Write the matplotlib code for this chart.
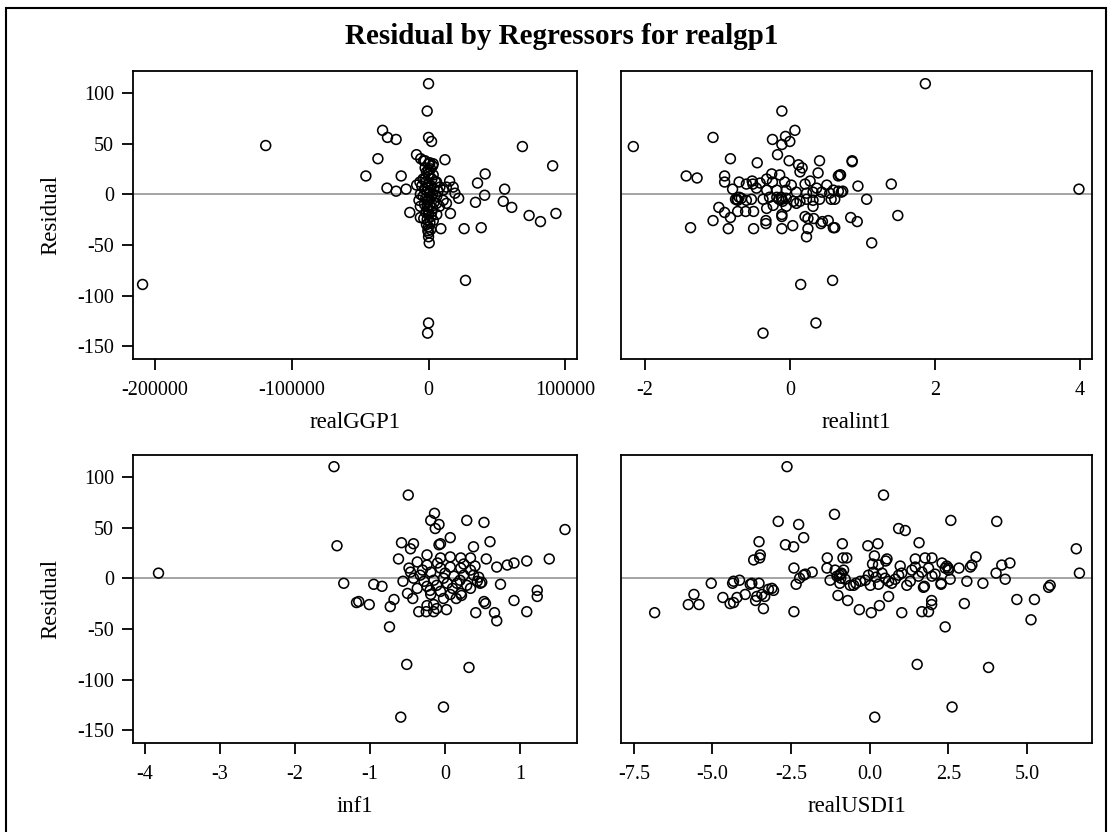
import matplotlib
matplotlib.use('Agg')
import matplotlib.pyplot as plt
from matplotlib.patches import Rectangle

plt.rcParams['font.family'] = ['Liberation Serif', 'DejaVu Serif']
plt.rcParams['axes.unicode_minus'] = False

title = 'Residual by Regressors for realgp1'

# (regressor value, residual)
ggp_pts = [(-209000, -89), (-119000, 48), (0, 109), (-1000, 82), (-33600, 63), (-30000, 56),
           (-23700, 54), (0, 56), (2200, 52), (68600, 47), (-37000, 35), (-8800, 39), (12000, 34),
           (-3500, 33), (0, 30), (3000, 28), (90700, 28), (-45800, 18), (-20000, 18), (41400, 20),
           (35800, 11), (15400, 13), (-30400, 6), (-23700, 3), (-16400, 5), (55600, 5), (41000, -1),
           (34300, -8), (54600, -7), (60800, -13), (73500, -21), (81800, -27), (93100, -19),
           (22000, -4), (16000, -19), (-13700, -18), (26000, -34), (38500, -33), (9000, -34),
           (27000, -85), (0, -127), (-700, -137), (0, -42), (500, -48), (-6000, -23),
           (-5700, 35), (-2600, 33), (1000, 31), (3400, 30), (0, 20), (3400, 19), (-2600, 15),
           (-6300, 12), (-8700, 9), (5900, 12), (8300, 7), (10700, 4), (13100, 7), (18000, 7),
           (19300, 1), (10700, -6), (5900, -9), (13100, -9), (-4000, 15), (-2000, 12), (0, 10),
           (2000, 8), (4000, 5), (-3000, 5), (-1000, 3), (1000, 2), (3000, 0), (-4000, -2),
           (-2000, -4), (0, -5), (2000, -3), (4000, -8), (-3000, -10), (-1000, -12), (1000, -11),
           (3000, -14), (-2000, -18), (0, -20), (2000, -22), (-1000, -25), (1000, -28), (0, -32),
           (-500, -36), (500, 0), (-500, 6), (500, 18), (-1500, 22), (1500, 25), (-500, -15),
           (6000, -2), (7000, 3), (-6000, 0), (-5000, 8), (-7000, -6), (5000, 12), (0, 24),
           (-1000, -7), (2500, -17), (-3500, -24), (3500, -26), (0, -38), (1500, -35),
           (-1500, -30), (-2500, 26), (2500, 15), (-6000, -12), (8000, -12), (6000, -20)]

int_pts = [(-2.16, 47), (-0.11, 82), (-1.06, 56), (0.07, 63), (-0.24, 54), (-0.06, 57), (0, 52),
           (-0.11, 49), (-0.17, 39), (-0.82, 35), (-0.45, 31), (-0.01, 33), (0.12, 29), (0.17, 26),
           (0.41, 33), (0.39, 21), (-1.43, 18), (-1.28, 16), (-0.9, 18), (-0.9, 12), (-1.37, -33),
           (-1.06, -26), (-0.85, -34), (-0.5, -34), (-0.11, -34), (0.04, -31), (0.23, -42),
           (0.25, -34), (0.6, -33), (0.15, -89), (0.59, -85), (0.36, -127), (-0.37, -137),
           (-0.98, -13), (-0.9, -18), (-0.82, -23), (-0.72, -17), (-0.61, -17), (-0.5, -17),
           (-0.33, -29), (-0.33, -26), (-0.11, -22), (-0.11, -20), (0.21, -22), (0.25, -24),
           (0.33, -24), (0.43, -29), (0.53, -26), (0.45, -27), (-0.79, 5), (-0.7, 12), (-0.6, 10),
           (-0.52, 13), (-0.73, -5), (-0.67, -4), (-0.6, -6), (-0.53, -5), (-0.37, -5), (-0.28, -3),
           (-0.18, -3), (-0.11, -5), (-0.05, -4), (0.05, -7), (0.14, -7), (0.23, -5), (0.32, -6),
           (0.41, -5), (0.57, -5), (1.87, 109), (0.86, 33), (0.86, 32), (0.67, 18), (0.70, 19),
           (0.67, 3), (0.73, 3), (0.62, -5), (0.94, 8), (1.40, 10), (1.06, -5), (0.84, -23),
           (0.93, -27), (1.49, -21), (1.13, -48), (0.62, -33), (3.99, 5), (-0.41, 11),
           (-0.32, 15), (-0.25, 20), (-0.14, 19), (-0.07, 12), (0.02, 9), (0.14, 22), (0.21, 10),
           (0.28, 13), (0.37, 6), (0.51, 9), (0.6, 4), (0.69, 19), (0.71, 2), (-0.46, 6),
           (-0.32, 4), (-0.18, 4), (-0.05, 4), (0.09, 2), (0.23, 1), (0.32, 2), (0.44, 2),
           (0.55, 1), (-0.51, 10), (-0.24, 12), (-0.23, -11), (-0.05, -12), (0.09, -9),
           (-0.32, -14), (0.32, -12), (-0.15, -5), (-0.12, -3), (-0.1, -7), (-0.75, -5),
           (-0.72, -6), (-0.7, -3)]

inf_pts = [(-1.48, 110), (-1.44, 32), (-3.82, 5), (-1.35, -5), (-0.49, 82), (-0.14, 64),
           (-0.19, 57), (-0.08, 53), (-0.13, 49), (0.29, 57), (0.52, 55), (1.6, 48), (-0.58, 35),
           (-0.42, 34), (-0.46, 29), (-0.08, 33), (-0.06, 34), (0.07, 40), (0.38, 31), (0.6, 36),
           (-0.62, 19), (-0.24, 23), (0.55, 19), (0.69, 11), (0.83, 13), (0.92, 15), (1.09, 17),
           (1.39, 19), (-0.48, 10), (-0.95, -6), (-0.84, -8), (-0.56, -3), (0.74, -6),
           (-1.18, -24), (-1.15, -23), (-1.01, -26), (-0.73, -28), (-0.68, -21), (-0.5, -15),
           (-0.43, -20), (-0.74, -48), (-0.35, -33), (-0.25, -33), (-0.15, -33), (-0.24, -27),
           (-0.11, -30), (0.02, -31), (0.22, -17), (0.52, -23), (0.54, -25), (0.41, -34),
           (0.66, -34), (0.69, -42), (0.92, -22), (1.09, -33), (1.23, -12), (1.23, -18),
           (-0.51, -85), (0.32, -88), (-0.59, -137), (-0.02, -127), (-0.37, 16), (-0.24, 13),
           (-0.06, 20), (0.07, 21), (0.21, 20), (0.34, 20), (-0.33, 3), (-0.19, 6), (-0.06, 10),
           (0.07, 11), (0.21, 10), (0.34, 8), (0.43, -3), (0.47, -5), (0.49, -4), (-0.28, -3),
           (-0.15, -2), (-0.02, 0), (0.12, 2), (0.25, 3), (0.38, 3), (-0.37, -10), (-0.24, -8),
           (-0.11, -7), (0.03, -5), (0.16, -5), (0.29, -7), (-0.19, -16), (-0.06, -13),
           (0.07, -16), (0.21, -15), (0.34, -10), (-0.46, 6), (-0.42, 0), (-0.15, -26),
           (-0.02, -20), (-0.3, 8), (0.0, 5), (0.1, -10), (-0.1, 15), (0.2, -2), (0.4, 12),
           (-0.2, -12), (0.25, 14), (0.15, -20), (0.45, 1)]

usd_pts = [(-2.63, 110), (-1.12, 63), (-2.91, 56), (-2.26, 53), (-3.52, 36), (-2.68, 33),
           (-2.42, 31), (-2.1, 40), (-3.48, 23), (-3.5, 20), (-3.69, 18), (-2.41, 10), (-1.35, 20),
           (-1.36, 10), (-0.87, 34), (-0.85, 20), (-2.1, 3), (-2.05, 4), (-1.83, 6), (-2.23, 0),
           (-2.34, -6), (-1.26, -2), (-0.96, 3), (-0.92, 0), (-1.01, -17), (-2.41, -33),
           (-3.38, -30), (-3.34, -18), (-3.43, -16), (-3.59, -18), (-3.63, -22), (-3.11, -10),
           (-3.06, -12), (-3.22, -11), (-4.33, -3), (-4.36, -5), (-4.14, -2), (-3.8, -6),
           (-3.75, -5), (-3.52, -5), (-3.96, -16), (-4.22, -19), (-4.33, -24), (-4.44, -25),
           (-4.67, -19), (-5.04, -5), (-5.59, -16), (-5.77, -26), (-5.43, -26), (-6.84, -34),
           (0.44, 82), (2.58, 57), (4.04, 56), (0.92, 49), (1.13, 47), (-0.06, 32), (0.26, 34),
           (1.57, 35), (-0.73, 20), (0.15, 22), (0.55, 19), (0.51, 17), (0.28, 13), (0.09, 14),
           (1.45, 19), (1.76, 20), (1.98, 20), (2.3, 15), (2.45, 12), (2.5, 10), (2.84, 10),
           (3.2, 11), (3.38, 21), (3.25, 13), (4.2, 13), (4.46, 15), (4.02, 5), (4.31, -1),
           (6.57, 29), (6.67, 5), (5.69, -9), (5.74, -7), (4.68, -21), (5.24, -21), (5.13, -41),
           (3.6, -5), (3.09, -3), (3.01, -25), (2.4, -48), (1.97, -22), (1.97, -26), (1.66, -33),
           (1.87, -33), (1.02, -34), (0.6, -18), (0.31, -27), (0.05, -34), (-0.33, -31),
           (-0.7, -22), (1.71, -9), (2.27, -6), (2.56, -1), (1.51, -85), (3.78, -88),
           (0.16, -137), (2.62, -127), (-0.62, -7), (-0.51, -7), (-0.44, -5), (-0.3, -3),
           (-0.14, -2), (0.02, -7), (0.28, -6), (0.49, 0), (0.6, -3), (0.7, -5), (0.81, -1),
           (0.92, 3), (1.02, 5), (1.18, -7), (1.29, -3), (1.34, 8), (1.45, 11), (1.55, 2),
           (1.66, 6), (1.74, -8), (1.87, 10), (1.98, 2), (2.08, 4), (2.27, -5), (2.4, 10),
           (2.51, 8), (-0.91, 4), (-0.83, 8), (-0.78, -1), (-1.04, 2), (-0.04, 3), (0.12, 6),
           (0.2, 1), (0.39, 5), (0.97, 12), (-0.9, 5), (-0.95, -5), (-1.1, 8)]

panels = [
    ('realGGP1', ggp_pts, (-216000, 108500), [-200000, -100000, 0, 100000],
     ['-200000', '-100000', '0', '100000']),
    ('realint1', int_pts, (-2.33, 4.17), [-2, 0, 2, 4], ['-2', '0', '2', '4']),
    ('inf1', inf_pts, (-4.16, 1.76), [-4, -3, -2, -1, 0, 1], ['-4', '-3', '-2', '-1', '0', '1']),
    ('realUSDI1', usd_pts, (-7.91, 7.07), [-7.5, -5, -2.5, 0, 2.5, 5],
     ['-7.5', '-5.0', '-2.5', '0.0', '2.5', '5.0']),
]
y_ticks = [-150, -100, -50, 0, 50, 100]

W, H = 1112, 832
fig = plt.figure(figsize=(W / 100, H / 100), dpi=100)

# outer frame
fig.patches.append(Rectangle((6 / W, -0.05), 1100 / W, 1.05 - 8 / H, transform=fig.transFigure,
                             fill=False, edgecolor='black', linewidth=1.5))

fig.text(0.505, 1 - 36 / H, title, ha='center', va='center', fontsize=21, fontweight='bold')

# axes boxes in pixels: left, right, top, bottom
boxes = [(133, 577, 71, 359), (621, 1092, 71, 359), (133, 577, 455, 743), (621, 1092, 455, 743)]

for i, (name, pts, xlim, xt, xtl) in enumerate(panels):
    l, r, t, b = boxes[i]
    ax = fig.add_axes([l / W, 1 - b / H, (r - l) / W, (b - t) / H])
    xs = [p[0] for p in pts]
    ys = [p[1] for p in pts]
    ax.axhline(0, color='#8c8c8c', linewidth=1.1, zorder=1)
    ax.scatter(xs, ys, s=50, facecolors='none', edgecolors='black', linewidths=1.15, zorder=2)
    ax.set_xlim(*xlim)
    ax.set_ylim(-162.5, 121.5)
    ax.set_xticks(xt)
    ax.set_xticklabels(xtl)
    for sp in ax.spines.values():
        sp.set_linewidth(1.3)
    ax.tick_params(direction='out', length=7.6, width=1.3, labelsize=14.5)
    ax.tick_params(axis='x', pad=8)
    ax.tick_params(axis='y', pad=6)
    ax.set_xlabel(name, fontsize=16.5, va='center')
    ax.xaxis.set_label_coords(0.5, -63 / (b - t))
    if i % 2 == 0:
        ax.set_yticks(y_ticks)
        ax.set_ylabel('Residual', fontsize=16.5, va='center')
        ax.yaxis.set_label_coords(-82 / (r - l), 0.5)
    else:
        ax.set_yticks([])

fig.savefig('out.png', dpi=100)
